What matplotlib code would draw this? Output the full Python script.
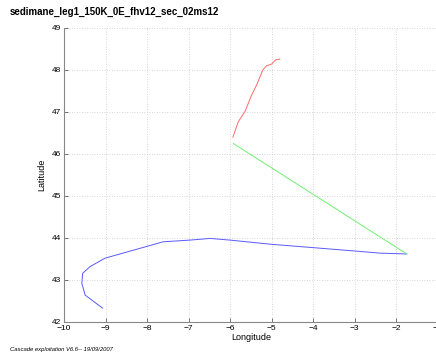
import matplotlib
matplotlib.use('Agg')
import matplotlib.pyplot as plt

# ship track segments (lon, lat)
blue_lon = [-9.07, -9.49, -9.57, -9.55, -9.37, -9.01, -7.61, -6.96, -6.48, -6.0, -5.0, -3.99, -2.99, -2.39, -1.74]
blue_lat = [42.33, 42.64, 42.92, 43.16, 43.32, 43.52, 43.91, 43.95, 43.99, 43.95, 43.85, 43.77, 43.69, 43.64, 43.62]

green_lon = [-1.74, -5.92]
green_lat = [43.62, 46.25]

red_lon = [-5.93, -5.80, -5.64, -5.48, -5.36, -5.21, -5.12, -5.0, -4.90, -4.80]
red_lat = [46.40, 46.77, 47.01, 47.40, 47.64, 48.0, 48.10, 48.14, 48.24, 48.26]

title = 'sedimane_leg1_150K_0E_fhv12_sec_02ms12'
footer = 'Cascade exploitation V6.6-- 19/09/2007'

plt.rcParams['font.family'] = ['Liberation Sans', 'DejaVu Sans']

fig = plt.figure(figsize=(4.36, 3.58), dpi=100)
ax = fig.add_axes([64 / 436, 36 / 358, 373.5 / 436, 294 / 358])

ax.plot(blue_lon, blue_lat, color='#5a5aff', lw=0.7)
ax.plot(green_lon, green_lat, color='#70f070', lw=0.7)
ax.plot(red_lon, red_lat, color='#ff6a6a', lw=0.7)

ax.set_xlim(-10, -1)
ax.set_ylim(42, 49)
ax.set_xticks(range(-10, 0))
ax.set_yticks(range(42, 50))
ax.grid(True, color='#c8c8c8', linestyle=(0, (1, 2)), linewidth=0.6)
ax.tick_params(direction='in', length=3, width=0.5, labelsize=6, pad=2, color='#444444')
ax.spines['top'].set_visible(False)
ax.spines['right'].set_visible(False)
for s in ('left', 'bottom'):
    ax.spines[s].set_color('#888888')
    ax.spines[s].set_linewidth(0.8)

ax.set_xlabel('Longitude', fontsize=6.5, labelpad=1)
ax.set_ylabel('Latitude', fontsize=6.5, labelpad=4)

fig.text(10 / 436, 1 - 12 / 358, title, fontsize=7, fontweight='bold', va='center', ha='left')
fig.text(10 / 436, 1 - 350 / 358, footer, fontsize=4.2, style='italic', va='center', ha='left')

fig.savefig('out.png', dpi=100)
